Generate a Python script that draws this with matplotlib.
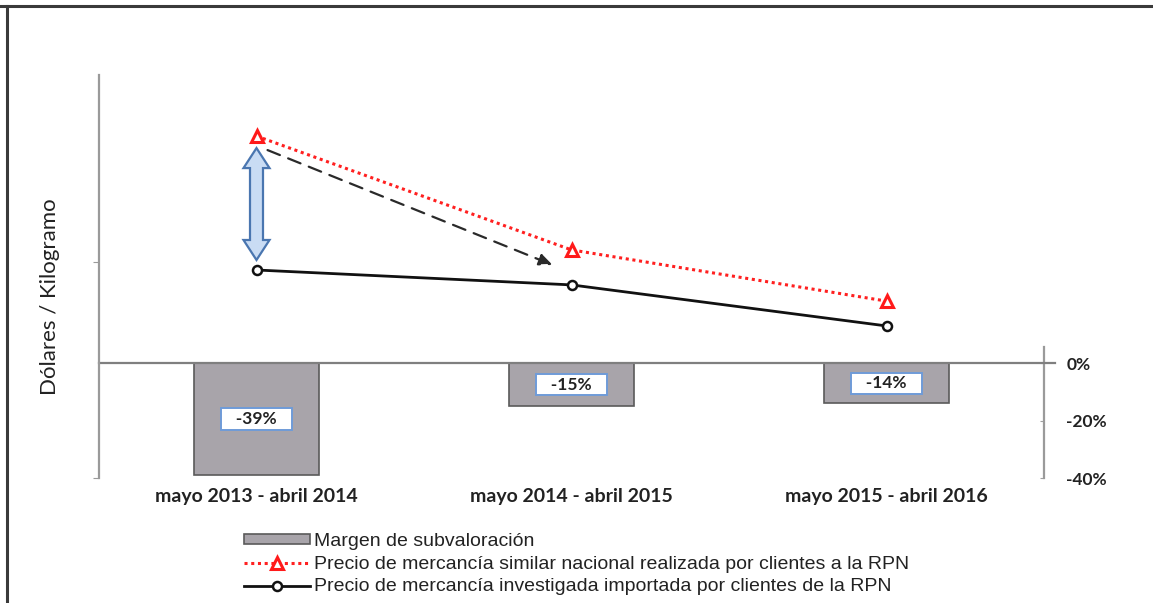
import matplotlib
matplotlib.use("Agg")
import matplotlib.pyplot as plt
from matplotlib.patches import Polygon
from matplotlib.lines import Line2D
import numpy as np

categories = ["mayo 2013 - abril 2014", "mayo 2014 - abril 2015", "mayo 2015 - abril 2016"]
margen = [-39, -15, -14]
precio_nacional = [1.583, 1.056, 0.819]
precio_importado = [0.963, 0.894, 0.704]
pct_ticks = [0, -20, -40]
pct_labels = ["0%", "-20%", "-40%"]
legend_labels = ["Margen de subvaloración",
                 "Precio de mercancía similar nacional realizada por clientes a la RPN",
                 "Precio de mercancía investigada importada por clientes de la RPN"]

W, H = 1153, 603
fig = plt.figure(figsize=(W / 100, H / 100), dpi=100)
fig.patch.set_facecolor("white")

# frame lines (top and left)
fig.add_artist(Line2D([0, 1], [1 - 5.5 / H, 1 - 5.5 / H], color="#3a3a3a", lw=2.2, transform=fig.transFigure))
fig.add_artist(Line2D([6.5 / W, 6.5 / W], [0, 1 - 5.5 / H], color="#3a3a3a", lw=2.2, transform=fig.transFigure))

L, R, T, B = 99, 1044, 75, 478
ax = fig.add_axes([L / W, 1 - B / H, (R - L) / W, (B - T) / H])  # bars, percent axis (right)
ax2 = ax.twinx()  # price axis (left)
ax.set_zorder(1)
ax2.set_zorder(2)
ax2.patch.set_visible(False)

x = np.arange(len(categories))
px_per_pct = (B - 363) / 40.0
top_pct = (363 - T) / px_per_pct
ax.set_ylim(-40, top_pct)
ax.set_xlim(-0.5, 2.5)

bars = ax.bar(x, margen, width=0.395, color="#a8a4aa", edgecolor="#5a5a5a", linewidth=1.2, zorder=2)
ax.axhline(0, xmin=0, xmax=1.012, color="#7f7f7f", lw=1.6, clip_on=False, zorder=3)

for xi, v in zip(x, margen):
    ax.text(xi, v / 2, f"   {v}%   ", ha="center", va="center", fontsize=12.5, fontweight="bold",
            family="Lato", color="#222222", zorder=5,
            bbox=dict(boxstyle="square,pad=0.15", fc="white", ec="#6f9bd8", lw=1.4))

# percent axis on right
ax.yaxis.tick_right()
ax.set_yticks(pct_ticks)
ax.set_yticklabels(pct_labels, fontsize=12.5, fontweight="bold", family="Lato", color="#222222")
ax.tick_params(axis="y", direction="in", length=3, color="#a0a0a0", pad=16)
ax.tick_params(axis="x", length=0, pad=7)
ax.set_xticks(x)
ax.set_xticklabels(categories, fontsize=14, fontweight="bold", family="Lato", color="#222222")
for s in ["top", "left", "bottom"]:
    ax.spines[s].set_visible(False)
ax.spines["right"].set_bounds(-40, 5.5)
ax.spines["right"].set_color("#9a9a9a")
ax.spines["right"].set_linewidth(1.6)

# price axis on left
ppu = 216.0
ax2.set_ylim(0, (B - T) / ppu)
ax2.yaxis.tick_left()
ax2.set_yticks([0, 1])
ax2.set_yticklabels([])
ax2.tick_params(axis="y", direction="out", length=4, color="#9a9a9a")
for s in ["top", "right", "bottom"]:
    ax2.spines[s].set_visible(False)
ax2.spines["left"].set_color("#9a9a9a")
ax2.spines["left"].set_linewidth(1.6)

l_red, = ax2.plot(x, precio_nacional, linestyle=(0, (1, 1.2)), color="#ff2020", lw=2.2,
                  marker="^", markersize=8, markerfacecolor="white", markeredgecolor="#ff1a1a",
                  markeredgewidth=2.2, zorder=4)
l_blk, = ax2.plot(x, precio_importado, linestyle="-", color="#111111", lw=2.0,
                  marker="o", markersize=6.5, markerfacecolor="white", markeredgecolor="#111111",
                  markeredgewidth=1.8, zorder=4)

fig.text(50 / W, 1 - 297 / H, "Dólares / Kilogramo", rotation=90, ha="center", va="center",
         fontsize=16, family="Lato", color="#222222")

# blue double block arrow between the two prices in the first period
x0 = x[0]
ytop = precio_nacional[0] - 12 / ppu
ybot = precio_importado[0] + 10 / ppu
sw = 6.5 / 315.0   # shaft half-width (x units)
hw = 13.0 / 315.0  # head half-width
hl = 20.0 / ppu    # head length (y units)
verts = [(x0, ytop), (x0 + hw, ytop - hl), (x0 + sw, ytop - hl), (x0 + sw, ybot + hl),
         (x0 + hw, ybot + hl), (x0, ybot), (x0 - hw, ybot + hl), (x0 - sw, ybot + hl),
         (x0 - sw, ytop - hl), (x0 - hw, ytop - hl)]
ax2.add_patch(Polygon(verts, closed=True, fc="#c9dcf4", ec="#4a76b0", lw=1.6, zorder=5))

# dashed trend arrow
ax2.annotate("", xy=(x0 + 0.94, precio_importado[0] + 5 / ppu),
             xytext=(x0 + 0.035, precio_nacional[0] - 14 / ppu),
             arrowprops=dict(arrowstyle="-|>,head_length=0.8,head_width=0.35", color="#2a2a2a",
                             lw=1.6, linestyle=(0, (6, 4)), shrinkA=0, shrinkB=0), zorder=5)

# legend
h_bar = plt.Rectangle((0, 0), 1, 1, fc="#a8a4aa", ec="#5a5a5a", lw=1.2)
leg = fig.legend([h_bar, l_red, l_blk], legend_labels, loc="upper left",
                 bbox_to_anchor=(236 / W, 1 - 525 / H), frameon=False,
                 prop=dict(family="Liberation Sans", size=14), handlelength=3.4,
                 handleheight=0.4, labelspacing=0.3, handletextpad=0.2, borderaxespad=0)
for t in leg.get_texts():
    t.set_color("#222222")

fig.savefig("out.png", dpi=100, facecolor="white")
